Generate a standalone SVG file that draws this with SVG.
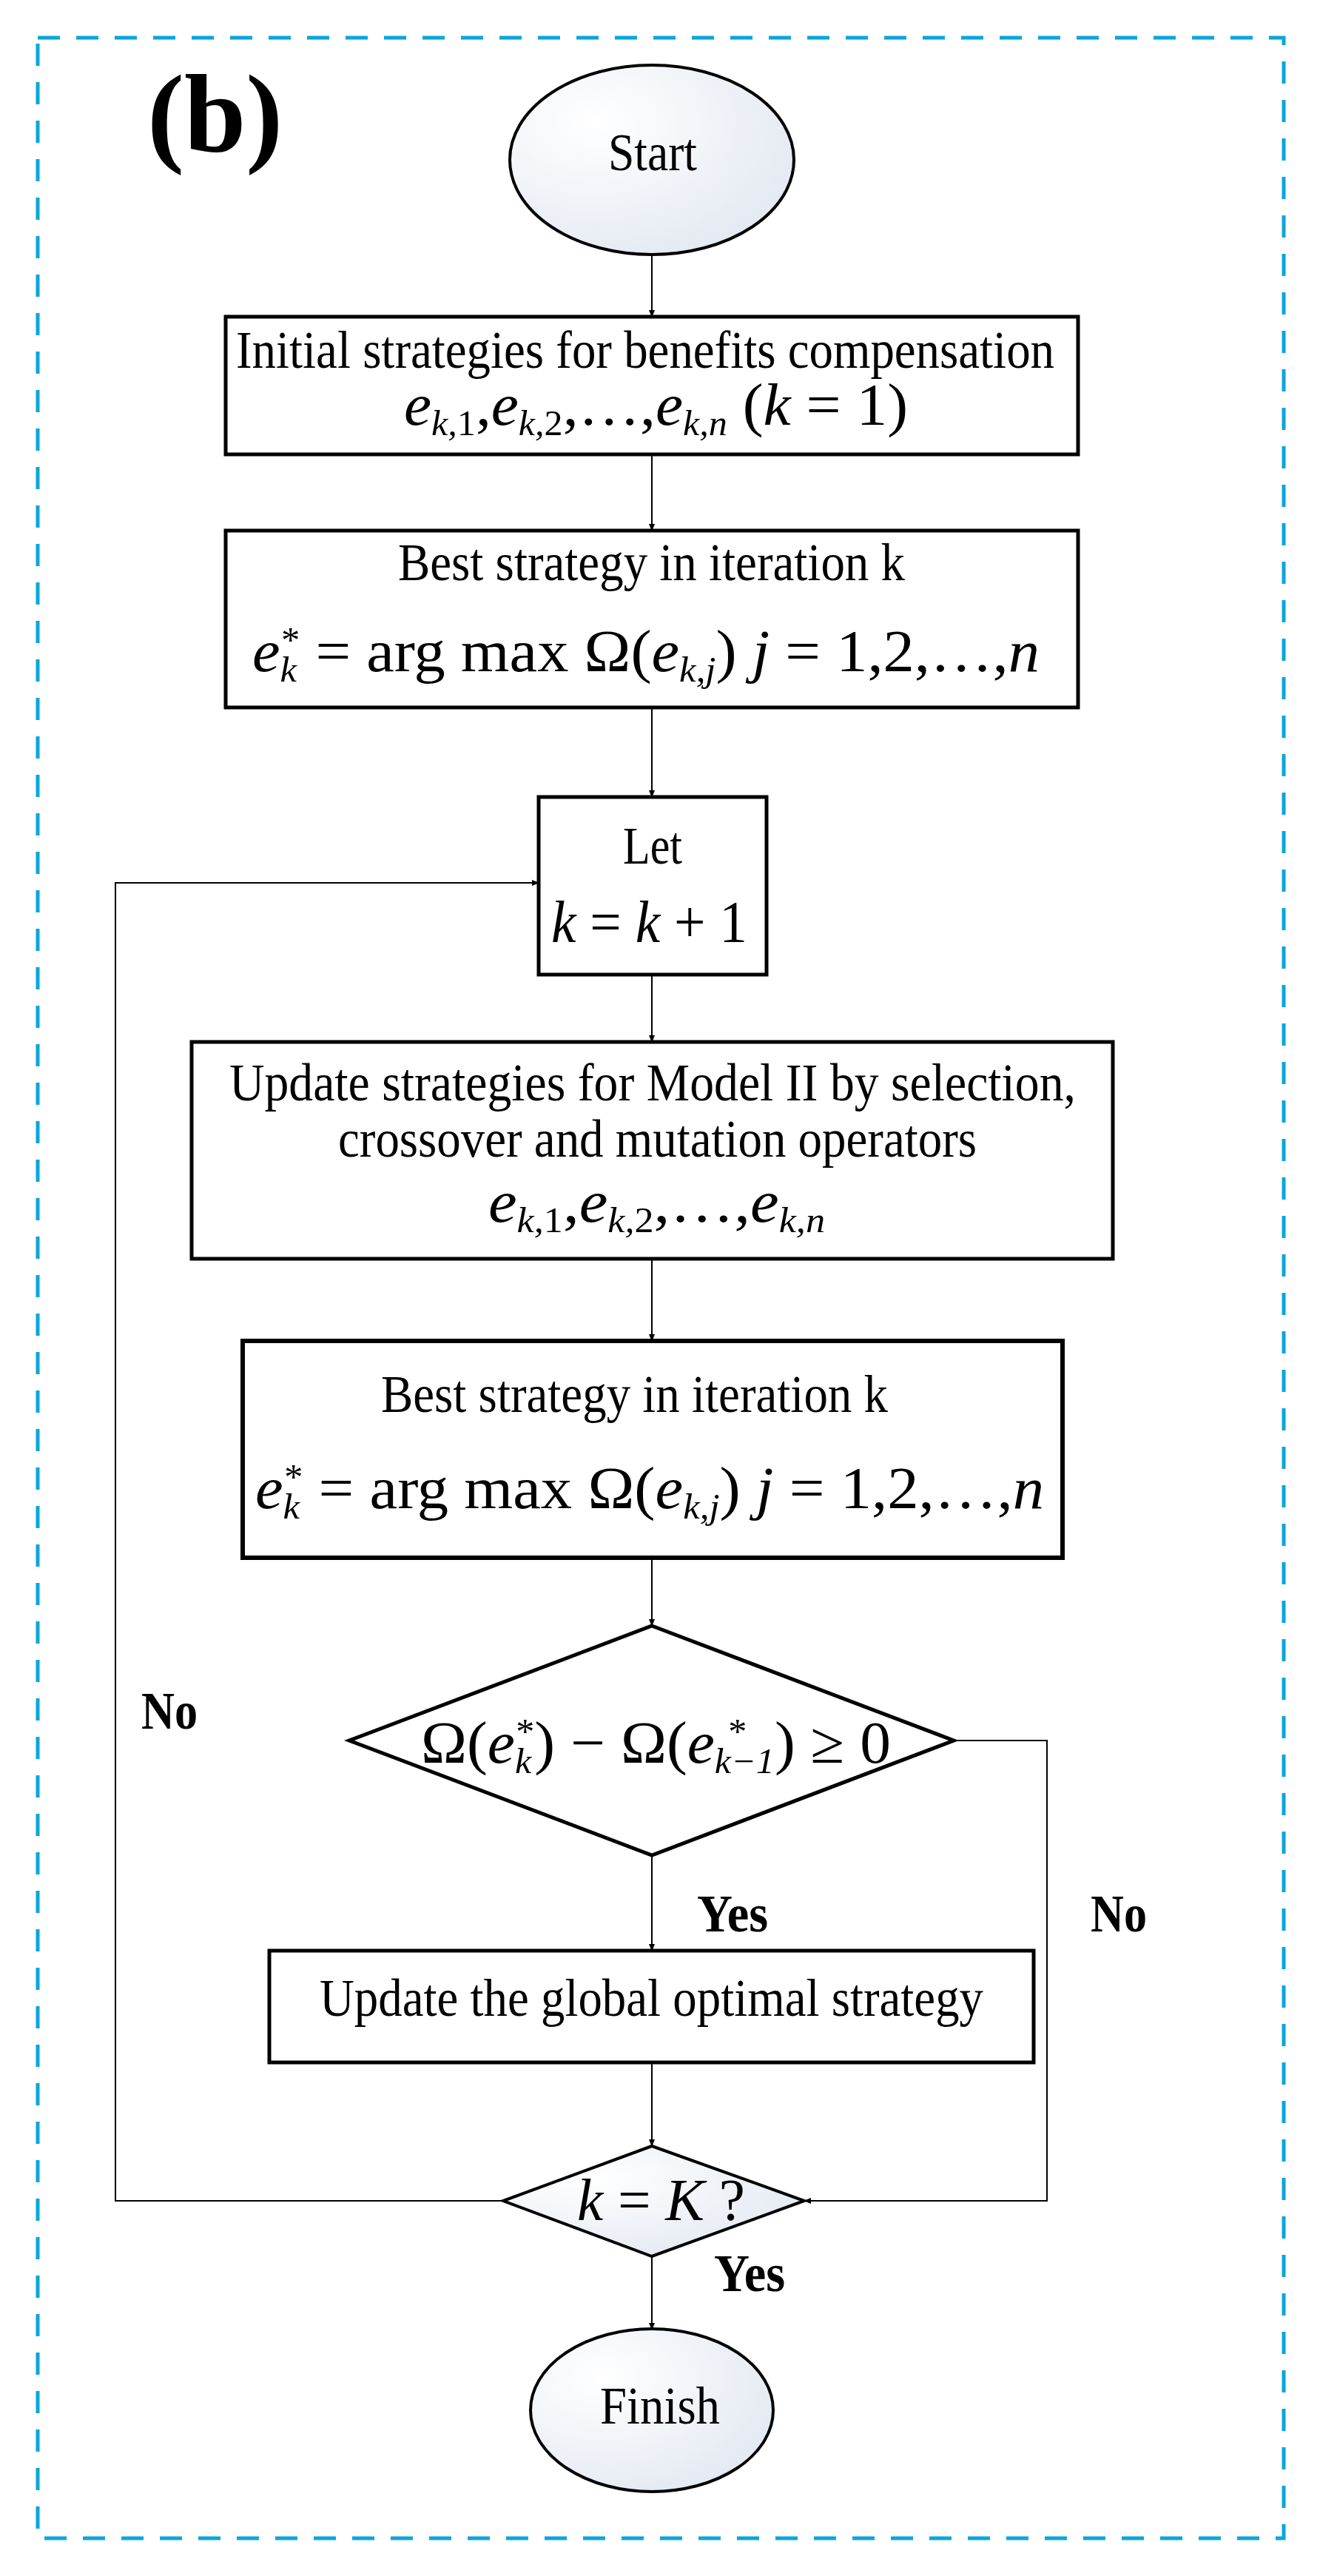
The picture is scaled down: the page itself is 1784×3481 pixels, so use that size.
<svg xmlns="http://www.w3.org/2000/svg" width="1784" height="3481" viewBox="0 0 1784 3481">
<style>
text{font-family:"Liberation Serif","Times New Roman",serif;fill:#000}
.t{font-size:72px}
.m{font-size:80px;font-style:italic}
.u{font-style:normal}
.s{font-size:48px}
.lbl{font-size:72px;font-weight:bold}
.box{fill:#fff;stroke:#000;stroke-width:5}
.term{fill:url(#g);stroke:#000;stroke-width:4}
.conn{fill:none;stroke:#000;stroke-width:2}
</style>
<defs>
<radialGradient id="g" cx="0.3" cy="0.3" r="0.9"><stop offset="0" stop-color="#ffffff"/><stop offset="1" stop-color="#dfe6f0"/></radialGradient>
<marker id="a" markerWidth="10" markerHeight="10" refX="9" refY="5" orient="auto" markerUnits="userSpaceOnUse"><path d="M0,1 L10,5 L0,9 z" fill="#000"/></marker>
</defs>
<rect x="51" y="51" width="1684" height="3379" fill="none" stroke="#0aa6dc" stroke-width="5" stroke-dasharray="30,22"/>
<text x="199" y="205" style="font-size:150px;font-weight:bold">(b)</text>
<g id="connectors">
<line class="conn" x1="881" y1="344" x2="881" y2="428" marker-end="url(#a)"/>
<line class="conn" x1="881" y1="614" x2="881" y2="717" marker-end="url(#a)"/>
<line class="conn" x1="881" y1="956" x2="881" y2="1077" marker-end="url(#a)"/>
<line class="conn" x1="881" y1="1317" x2="881" y2="1408" marker-end="url(#a)"/>
<line class="conn" x1="881" y1="1701" x2="881" y2="1812" marker-end="url(#a)"/>
<line class="conn" x1="881" y1="2105" x2="881" y2="2197" marker-end="url(#a)"/>
<line class="conn" x1="881" y1="2507" x2="881" y2="2636" marker-end="url(#a)"/>
<line class="conn" x1="881" y1="2787" x2="881" y2="2900" marker-end="url(#a)"/>
<line class="conn" x1="881" y1="3049" x2="881" y2="3148" marker-end="url(#a)"/>
<polyline class="conn" points="1289,2352 1415,2352 1415,2974 1087,2974" marker-end="url(#a)"/>
<polyline class="conn" points="680,2974 156,2974 156,1193 728,1193" marker-end="url(#a)"/>
<text class="lbl" x="191" y="2336" textLength="76" lengthAdjust="spacingAndGlyphs">No</text>
<text class="lbl" x="942" y="2610" textLength="96" lengthAdjust="spacingAndGlyphs">Yes</text>
<text class="lbl" x="1474" y="2610" textLength="76" lengthAdjust="spacingAndGlyphs">No</text>
<text class="lbl" x="965" y="3096" textLength="96" lengthAdjust="spacingAndGlyphs">Yes</text>
</g>
<g id="start">
<ellipse class="term" cx="881" cy="216" rx="192" ry="128"/>
<text class="t" x="822" y="230" textLength="120" lengthAdjust="spacingAndGlyphs">Start</text>
</g>
<g id="init">
<rect class="box" x="305" y="428" width="1152" height="186"/>
<text class="t" x="319" y="497" textLength="1106" lengthAdjust="spacingAndGlyphs">Initial strategies for benefits compensation</text>
<text class="m" x="546" y="574" textLength="681" lengthAdjust="spacingAndGlyphs">e<tspan class="s" dy="14">k,</tspan><tspan class="s u">1</tspan><tspan class="u" dy="-14">,</tspan>e<tspan class="s" dy="14">k,</tspan><tspan class="s u">2</tspan><tspan class="u" dy="-14">,…,</tspan>e<tspan class="s" dy="14">k,n</tspan><tspan class="u" dy="-14"> (</tspan>k<tspan class="u"> = 1)</tspan></text>
</g>
<g id="best1">
<rect class="box" x="305" y="717" width="1152" height="239"/>
<text class="t" x="538" y="784" textLength="685" lengthAdjust="spacingAndGlyphs">Best strategy in iteration k</text>
<text class="m" x="341" y="907" textLength="1064" lengthAdjust="spacingAndGlyphs">e<tspan class="s" dy="14">k</tspan><tspan class="s u" dx="-20" dy="-40">*</tspan><tspan class="u" dy="26"> = arg max Ω(</tspan>e<tspan class="s" dy="14">k,j</tspan><tspan class="u" dy="-14">)  </tspan>j<tspan class="u"> = 1,2,…,</tspan>n</text>
</g>
<g id="let">
<rect class="box" x="728" y="1077" width="308" height="240"/>
<text class="t" x="842" y="1167" textLength="80" lengthAdjust="spacingAndGlyphs">Let</text>
<text class="m" x="745" y="1273" textLength="265" lengthAdjust="spacingAndGlyphs">k<tspan class="u"> = </tspan>k<tspan class="u"> + 1</tspan></text>
</g>
<g id="update">
<rect class="box" x="259" y="1408" width="1245" height="293"/>
<text class="t" x="310" y="1487" textLength="1144" lengthAdjust="spacingAndGlyphs">Update strategies for Model II  by selection,</text>
<text class="t" x="457" y="1563" textLength="863" lengthAdjust="spacingAndGlyphs">crossover and mutation operators</text>
<text class="m" x="660" y="1651" textLength="455" lengthAdjust="spacingAndGlyphs">e<tspan class="s" dy="14">k,</tspan><tspan class="s u">1</tspan><tspan class="u" dy="-14">,</tspan>e<tspan class="s" dy="14">k,</tspan><tspan class="s u">2</tspan><tspan class="u" dy="-14">,…,</tspan>e<tspan class="s" dy="14">k,n</tspan></text>
</g>
<g id="best2">
<rect class="box" x="328" y="1812" width="1108" height="293" style="stroke-width:6"/>
<text class="t" x="515" y="1908" textLength="685" lengthAdjust="spacingAndGlyphs">Best strategy in iteration k</text>
<text class="m" x="345" y="2038" textLength="1066" lengthAdjust="spacingAndGlyphs">e<tspan class="s" dy="14">k</tspan><tspan class="s u" dx="-20" dy="-40">*</tspan><tspan class="u" dy="26"> = arg max Ω(</tspan>e<tspan class="s" dy="14">k,j</tspan><tspan class="u" dy="-14">)  </tspan>j<tspan class="u"> = 1,2,…,</tspan>n</text>
</g>
<g id="cond">
<polygon class="box" points="881,2197 1289,2352 881,2507 472,2352"/>
<text class="m" x="569" y="2382" textLength="635" lengthAdjust="spacingAndGlyphs"><tspan class="u">Ω(</tspan>e<tspan class="s" dy="14">k</tspan><tspan class="s u" dx="-20" dy="-40">*</tspan><tspan class="u" dy="26">) − Ω(</tspan>e<tspan class="s" dy="14">k−1</tspan><tspan class="s u" dx="-60" dy="-40">*</tspan><tspan class="u" dx="36" dy="26">) ≥ 0</tspan></text>
</g>
<g id="global">
<rect class="box" x="364" y="2636" width="1033" height="151"/>
<text class="t" x="432" y="2724" textLength="897" lengthAdjust="spacingAndGlyphs">Update the global optimal strategy</text>
</g>
<g id="check">
<polygon class="term" points="881,2900 1087,2974 881,3049 680,2974"/>
<text class="m" x="780" y="3000" textLength="227" lengthAdjust="spacingAndGlyphs">k<tspan class="u"> = </tspan>K<tspan class="u"> ?</tspan></text>
</g>
<g id="finish">
<ellipse class="term" cx="881" cy="3257" rx="164" ry="110"/>
<text class="t" x="811" y="3275" textLength="162" lengthAdjust="spacingAndGlyphs">Finish</text>
</g>
</svg>
